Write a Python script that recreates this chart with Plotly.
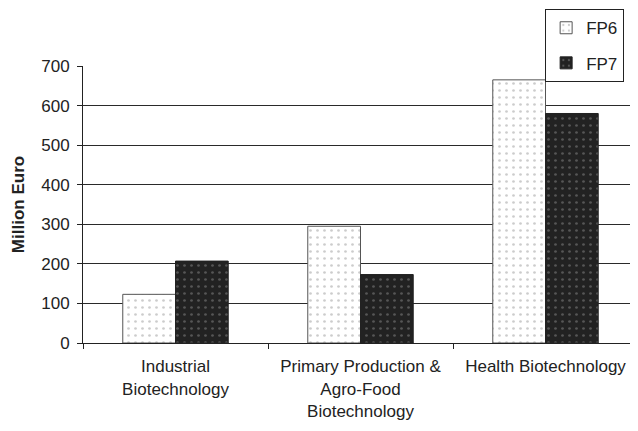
import plotly.graph_objects as go

categories = ["Industrial<br>Biotechnology",
              "Primary Production &<br>Agro-Food<br>Biotechnology",
              "Health Biotechnology"]
fp6_values = [123, 295, 665]
fp7_values = [207, 173, 580]
y_ticks = [0, 100, 200, 300, 400, 500, 600, 700]

fig = go.Figure()
fig.add_trace(go.Bar(
    name="FP6", x=categories, y=fp6_values, legendgroup="a",
    marker=dict(color="white", line=dict(color="#555555", width=1),
                pattern=dict(shape=".", fgcolor="#9a9a9a", bgcolor="white",
                             size=7, solidity=0.12)),
))
fig.add_trace(go.Bar(
    name="FP7", x=categories, y=fp7_values, legendgroup="b",
    marker=dict(color="#222222", line=dict(color="#222222", width=1),
                pattern=dict(shape=".", fgcolor="#8a8a8a", bgcolor="#222222",
                             size=7, solidity=0.12)),
))

# the page body adds an 8px offset, so the figure is 8px smaller
fig.update_layout(
    width=630, height=423,
    margin=dict(l=75, r=0, t=58, b=88, autoexpand=False),
    paper_bgcolor="white", plot_bgcolor="white",
    font=dict(family="Liberation Sans, Arial, sans-serif", size=17, color="#222222"),
    barmode="group", bargap=0.43, bargroupgap=0,
    showlegend=True,
    legend=dict(x=0.975, xanchor="right", y=1.205, yanchor="top",
                bordercolor="#222222", borderwidth=1, bgcolor="white",
                font=dict(size=17), tracegroupgap=10, traceorder="grouped",
                itemwidth=30),
    xaxis=dict(showline=True, linecolor="#222222", linewidth=1,
               ticks="outside", ticklen=5, tickcolor="#222222",
               tickson="boundaries", showgrid=False,
               ticklabelstandoff=8,
               tickfont=dict(size=17)),
    yaxis=dict(range=[0, 700], tickvals=y_ticks, showline=True,
               linecolor="#222222", linewidth=1, ticks="outside", ticklen=5,
               tickcolor="#222222", showgrid=True, gridcolor="#2a2a2a",
               gridwidth=1, zeroline=False, tickfont=dict(size=17),
               ticklabelstandoff=4,
               title=dict(text="<b>Million Euro</b>", font=dict(size=17),
                          standoff=12)),
)

fig.write_html("out.html")
